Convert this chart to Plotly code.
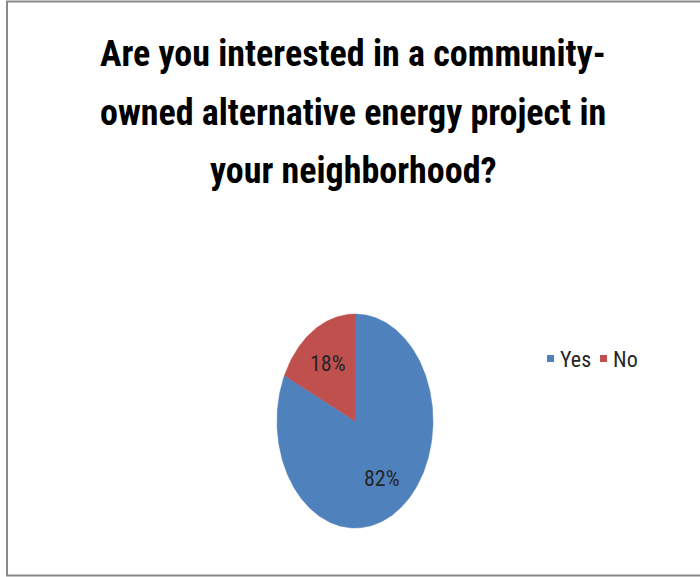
import numpy as np
import plotly.graph_objects as go

# Survey answers
categories = ["Yes", "No"]
shares = [82, 18]
colors = ["#4F81BD", "#C0504D"]
title_lines = [
    "Are you interested in a community-",
    "owned alternative energy project in",
    "your neighborhood?",
]

W, H = 700, 577
FONT = "Roboto Condensed, Roboto, sans-serif"

# Pie drawn as an ellipse (canvas pixel coordinates, y grows downwards)
cx, cy, rx, ry = 355, 421, 78, 107
label_r = 0.64

fig = go.Figure()

total = sum(shares)
start = 0.0  # fraction of a turn, clockwise from 12 o'clock
for name, val, col in zip(categories, shares, colors):
    frac = val / total
    t = np.linspace(start, start + frac, max(int(frac * 400), 8)) * 2 * np.pi
    xs = np.concatenate([[cx], cx + rx * np.sin(t), [cx]])
    ys = np.concatenate([[cy], cy - ry * np.cos(t), [cy]])
    fig.add_trace(go.Scatter(
        x=xs, y=ys, mode="lines", fill="toself", fillcolor=col,
        line=dict(color=col, width=0.5), name=name, showlegend=False,
        hoverinfo="name",
    ))
    mid = (start + frac / 2) * 2 * np.pi
    fig.add_annotation(
        x=cx + label_r * rx * np.sin(mid), y=cy - label_r * ry * np.cos(mid),
        text=f"{val}%", showarrow=False, xanchor="center", yanchor="middle",
        font=dict(family=FONT, size=22, color="#262626"),
    )
    start += frac

# Title, one annotation per line
title_y = [54, 113, 171]
for line, y in zip(title_lines, title_y):
    fig.add_annotation(
        x=353, y=y, text=f"<b>{line}</b>", showarrow=False,
        xanchor="center", yanchor="middle",
        font=dict(family=FONT, size=36, color="#000000"),
    )

# Legend: colour keys with labels
legend_x = [547, 600]
legend_y = 359
for name, col, lx in zip(categories, colors, legend_x):
    fig.add_shape(type="rect", x0=lx, x1=lx + 7, y0=legend_y - 4, y1=legend_y + 3,
                  fillcolor=col, line_width=0, layer="above")
    fig.add_annotation(
        x=lx + 11, y=legend_y, text=name, showarrow=False,
        xanchor="left", yanchor="middle",
        font=dict(family=FONT, size=22, color="#262626"),
    )

# Chart frame
fig.add_shape(type="rect", x0=7, x1=W + 5, y0=1.5, y1=575.5,
              line=dict(color="#898989", width=2), fillcolor="rgba(0,0,0,0)")

fig.update_layout(
    width=W, height=H,
    margin=dict(l=0, r=0, t=0, b=0),
    paper_bgcolor="white", plot_bgcolor="white",
    xaxis=dict(range=[0, W], visible=False, fixedrange=True),
    yaxis=dict(range=[H, 0], visible=False, fixedrange=True),
    showlegend=False,
)
fig.write_html("out.html")
